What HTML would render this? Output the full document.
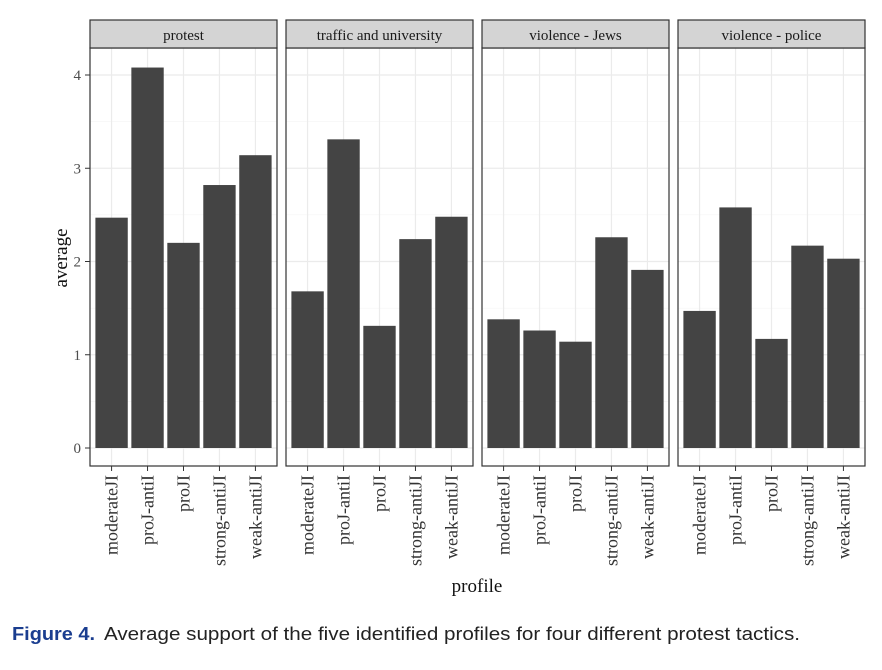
<!DOCTYPE html>
<html><head><meta charset="utf-8"><style>
body{margin:0;background:#fff;width:882px;height:665px;overflow:hidden}
</style></head><body>
<svg width="882" height="665" id="chart" xmlns="http://www.w3.org/2000/svg" font-family="Liberation Serif, serif"></svg>
<script>
const panels=["protest","traffic and university","violence - Jews","violence - police"];
const categories=["moderateJI","proJ-antiI","proJI","strong-antiJI","weak-antiJI"];
const protestVals=[2.47,4.08,2.20,2.82,3.14];
const trafficVals=[1.68,3.31,1.31,2.24,2.48];
const jewsVals=[1.38,1.26,1.14,2.26,1.91];
const policeVals=[1.47,2.58,1.17,2.17,2.03];
const yTicks=[0,1,2,3,4];
const series=[protestVals,trafficVals,jewsVals,policeVals];
const svg=document.getElementById('chart');
const NS="http://www.w3.org/2000/svg";
function mk(t,a,p){const e=document.createElementNS(NS,t);for(const k in a)e.setAttribute(k,a[k]);(p||svg).appendChild(e);return e;}
const topY=48,botY=466,pw=187,px0=90,gap=196;
function yS(v){return 448-v*93.25;}
function xS(i,p){return px0+p*gap+(i+0.6)*pw/5.2;}
panels.forEach((name,p)=>{
  const g=mk('g',{});
  
  
  const L=px0+p*gap;
  mk('rect',{x:L,y:topY,width:pw,height:botY-topY,fill:'#fff'},g);
  yTicks.forEach(t=>{mk('line',{x1:L,x2:L+pw,y1:yS(t),y2:yS(t),stroke:'#ebebeb','stroke-width':1.2},g);
    mk('line',{x1:L,x2:L+pw,y1:yS(t+0.5),y2:yS(t+0.5),stroke:'#f2f2f2','stroke-width':0.6},g);});
  categories.forEach((c,i)=>mk('line',{x1:xS(i,p),x2:xS(i,p),y1:topY,y2:botY,stroke:'#ebebeb','stroke-width':1.2},g));
  series[p].forEach((v,i)=>{const bw=0.9*pw/5.2;
    const r=mk('rect',{x:xS(i,p)-bw/2,y:yS(v),width:bw,height:yS(0)-yS(v),fill:'#444'},g);
    
    });
  mk('rect',{x:L,y:topY,width:pw,height:botY-topY,fill:'none',stroke:'#333','stroke-width':1.2},g);
  const s=mk('rect',{x:L,y:20,width:pw,height:topY-20,fill:'#d4d4d4',stroke:'#333','stroke-width':1.2},g);
  
  
  const st=mk('text',{x:L+pw/2,y:40,'text-anchor':'middle','font-size':15,fill:'#1a1a1a'},g);st.textContent=name;
  categories.forEach((c,i)=>{mk('line',{x1:xS(i,p),x2:xS(i,p),y1:botY,y2:botY+5,stroke:'#333'},g);
    const t=mk('text',{transform:`translate(${xS(i,p)+6},${botY+9}) rotate(-90)`,'text-anchor':'end','font-size':18,fill:'#333'},g);t.textContent=c;
    
    });
});
yTicks.forEach(t=>{mk('line',{x1:85,x2:90,y1:yS(t),y2:yS(t),stroke:'#333'});
  const l=mk('text',{x:81,y:yS(t)+5,'text-anchor':'end','font-size':15,fill:'#4d4d4d'});l.textContent=t;
  
  });
const yt=mk('text',{transform:'translate(67,258) rotate(-90)','text-anchor':'middle','font-size':19,fill:'#111'});yt.textContent='average';


const xt=mk('text',{x:477,y:592,'text-anchor':'middle','font-size':19,fill:'#111'});xt.textContent='profile';


const capB=mk('text',{x:12,y:640,'font-size':18.5,'font-family':'Liberation Sans, sans-serif',fill:'#1a3d8f','font-weight':'bold',textLength:83,lengthAdjust:'spacingAndGlyphs'});


capB.textContent='Figure 4.';
const capRest=mk('text',{x:104,y:640,'font-size':18.5,'font-family':'Liberation Sans, sans-serif',fill:'#222',textLength:696,lengthAdjust:'spacingAndGlyphs'});


capRest.textContent='Average support of the five identified profiles for four different protest tactics.';
</script>
</body></html>
